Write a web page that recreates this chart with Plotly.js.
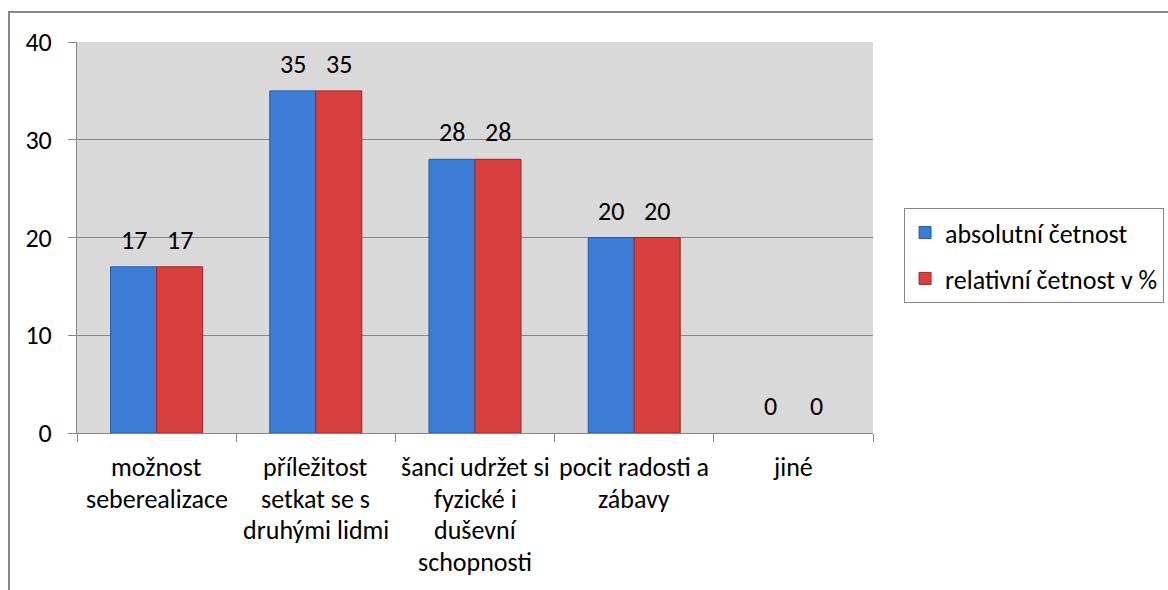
<!DOCTYPE html>
<html>
<head>
<meta charset="utf-8">
<script src="https://cdn.plot.ly/plotly-3.0.1.min.js"></script>
<style>
  html, body { margin: 0; padding: 0; background: #fff; }
  #wrap { position: relative; width: 1168px; height: 590px; overflow: hidden; }
  #chart { width: 1168px; height: 590px; }
  #frame { position: absolute; left: 8px; top: 11px; width: 1200px; height: 700px;
           border-left: 2px solid #878787; border-top: 2px solid #878787; pointer-events: none; }
</style>
</head>
<body>
<div id="wrap">
  <div id="chart"></div>
  <div id="frame"></div>
</div>
<script>
// ---- data ----
const categories = [
  "možnost\nseberealizace",
  "příležitost\nsetkat se s\ndruhými lidmi",
  "šanci udržet si\nfyzické i\nduševní\nschopnosti",
  "pocit radosti a\nzábavy",
  "jiné"
];
const absolutni = [17, 35, 28, 20, 0];
const relativni = [17, 35, 28, 20, 0];
const seriesNames = ["absolutní četnost", "relativní četnost v %"];
const yTicks = [0, 10, 20, 30, 40];

// ---- styling ----
const FONT = "Carlito, Calibri, Lato, sans-serif";
const FS = 26;
const idx = categories.map((_, i) => i);
const lw = vals => vals.map(v => (v > 0 ? 1 : 0));

const traces = [
  {
    type: "bar", name: seriesNames[0], x: idx, y: absolutni,
    legendgroup: "a",
    marker: { color: "#3b7cd6", line: { color: "#2a5a9e", width: lw(absolutni) } },
    hoverinfo: "y"
  },
  {
    type: "bar", name: seriesNames[1], x: idx, y: relativni,
    legendgroup: "b",
    marker: { color: "#d8403e", line: { color: "#9a2826", width: lw(relativni) } },
    hoverinfo: "y"
  }
];

const annotations = [];
// value labels
[absolutni, relativni].forEach((vals, s) => {
  vals.forEach((v, i) => {
    annotations.push({
      xref: "x", yref: "y", x: i, y: v, xshift: s === 0 ? -23 : 23, yshift: 27,
      text: String(v), showarrow: false, xanchor: "center", yanchor: "middle",
      font: { family: FONT, size: FS, color: "#000" }
    });
  });
});
// category labels, line by line
categories.forEach((c, i) => {
  c.split("\n").forEach((line, k) => {
    annotations.push({
      xref: "x", yref: "paper", x: i, y: 0, yshift: -34 - k * 31.6,
      text: line, showarrow: false, xanchor: "center", yanchor: "middle",
      font: { family: FONT, size: FS, color: "#000" }
    });
  });
});

const layout = {
  width: 1168, height: 590,
  margin: { l: 77, r: 295, t: 42, b: 157, pad: 0, autoexpand: false },
  paper_bgcolor: "rgba(0,0,0,0)",
  plot_bgcolor: "#d9d9d9",
  font: { family: FONT, size: FS, color: "#000" },
  barmode: "group",
  bargap: 0.422,
  bargroupgap: 0,
  xaxis: {
    type: "linear",
    range: [-0.5, categories.length - 0.5],
    showticklabels: false,
    tickmode: "array",
    tickvals: [-0.5, 0.5, 1.5, 2.5, 3.5, 4.5],
    ticks: "outside", ticklen: 8, tickcolor: "#868686", tickwidth: 1,
    showgrid: false, zeroline: false,
    showline: true, linecolor: "#868686", linewidth: 1,
    fixedrange: true
  },
  yaxis: {
    range: [0, 40],
    tickmode: "array", tickvals: yTicks, ticktext: yTicks.map(String),
    ticks: "outside", ticklen: 8, tickcolor: "#868686", tickwidth: 1,
    showgrid: true, gridcolor: "#868686", gridwidth: 1,
    zeroline: false,
    showline: true, linecolor: "#868686", linewidth: 1,
    tickfont: { family: FONT, size: FS, color: "#000" },
    ticklabelstandoff: 11,
    fixedrange: true
  },
  showlegend: true,
  legend: {
    x: 1.039, xanchor: "left",
    y: 0.575, yanchor: "top",
    bgcolor: "#ffffff",
    bordercolor: "#868686", borderwidth: 1,
    font: { family: FONT, size: FS, color: "#000" },
    traceorder: "grouped",
    tracegroupgap: 9,
    itemwidth: 30,
    itemclick: false, itemdoubleclick: false
  },
  annotations: annotations
};

Plotly.newPlot("chart", traces, layout, { displayModeBar: false, staticPlot: true });
</script>
</body>
</html>
